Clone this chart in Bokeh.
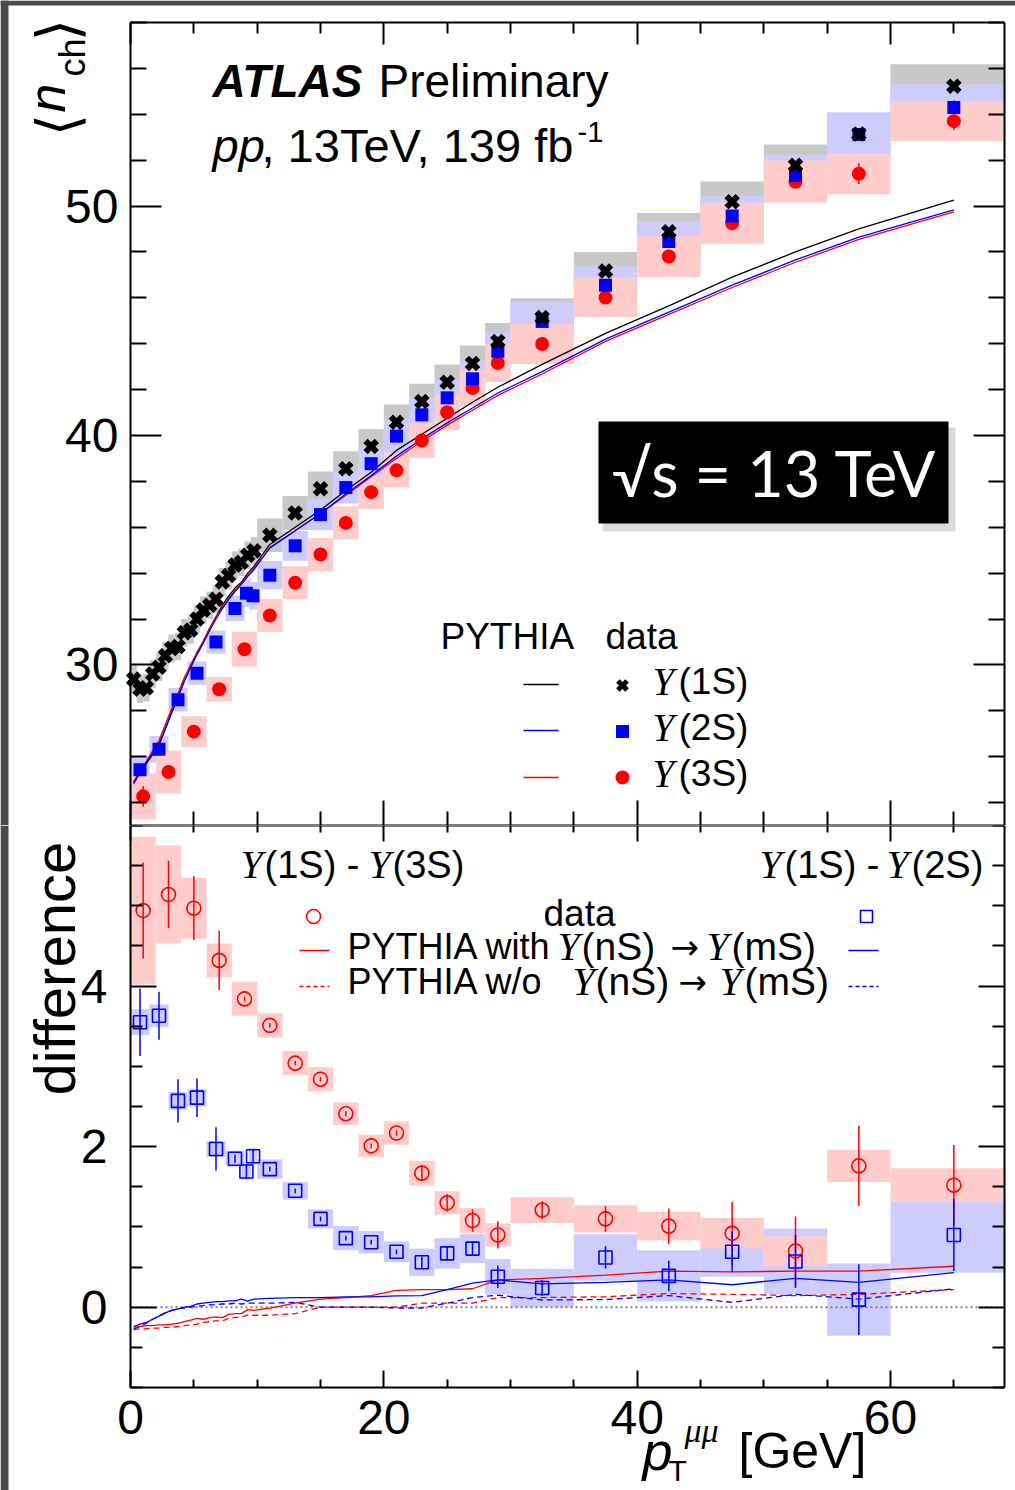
import math
from bokeh.plotting import figure
from bokeh.models import (Range1d, FixedTicker, LinearAxis, Label, BoxAnnotation,
                          ColumnDataSource)
from bokeh.layouts import column
from bokeh.embed import file_html
from bokeh.resources import INLINE

# ---------------- data ----------------
# Upsilon(1S)  (black crosses)
s1_lo = [0, 0.5, 1, 1.5, 2, 2.5, 3, 3.5, 4, 4.5, 5, 5.5, 6, 6.5, 7, 7.5, 8, 8.5, 9, 9.5,
         10, 12, 14, 16, 18, 20, 22, 24, 26, 28, 30, 35, 40, 45, 50, 55, 60]
s1_hi = [0.5, 1, 1.5, 2, 2.5, 3, 3.5, 4, 4.5, 5, 5.5, 6, 6.5, 7, 7.5, 8, 8.5, 9, 9.5, 10,
         12, 14, 16, 18, 20, 22, 24, 26, 28, 30, 35, 40, 45, 50, 55, 60, 70]
s1_val = [29.38, 28.94, 29.0, 29.6, 29.9, 30.4, 30.72, 30.8, 31.4, 31.52, 32.0, 32.39, 32.6, 32.86,
          33.62, 33.9, 34.35, 34.47, 34.78, 34.97,
          35.65, 36.62, 37.68, 38.55, 39.52, 40.58, 41.48, 42.32, 43.14, 44.1,
          45.14, 47.17, 48.88, 50.19, 51.78, 53.14, 55.22]
s1_sys = [0.6] * 20 + [0.73, 0.74, 0.75, 0.76, 0.76, 0.77, 0.77, 0.77, 0.78, 0.8,
                       0.84, 0.83, 0.82, 0.88, 0.9, 0.9, 0.96]
s1_stat = [0.1] * 20 + [0.05] * 10 + [0.08, 0.1, 0.1, 0.12, 0.15, 0.2, 0.25]

# Upsilon(2S)  (blue squares)
s2_lo = [0, 1.5, 3, 4.5, 6, 7.5, 8.8, 9.35, 10, 12, 14, 16, 18, 20, 22, 24, 26, 28,
         30, 35, 40, 45, 50, 55, 60]
s2_hi = [1.5, 3, 4.5, 6, 7.5, 9, 9.5, 10, 12, 14, 16, 18, 20, 22, 24, 26, 28, 30,
         35, 40, 45, 50, 55, 60, 70]
s2_val = [25.43, 26.32, 28.48, 29.64, 31.0, 32.46, 33.12, 33.01, 33.91, 35.19, 36.55, 37.73,
          38.77, 39.97, 40.9, 41.64, 42.47, 43.67, 44.97, 46.55, 48.45, 49.57, 51.33, 53.12, 54.3]
s2_sys = [0.6, 0.58, 0.51, 0.51, 0.5, 0.55, 0.6, 0.6, 0.62, 0.65, 0.68, 0.7, 0.72, 0.74, 0.76,
          0.78, 0.8, 0.82, 0.84, 0.83, 0.89, 0.86, 0.9, 0.97, 1.0]
s2_stat = [0.2, 0.15, 0.1, 0.1, 0.08, 0.06, 0.06, 0.06] + [0.05] * 10 + [0.08, 0.1, 0.12, 0.15, 0.2, 0.25, 0.3]

# Upsilon(3S)  (red circles)
s3_lo = [0, 2, 4, 6, 8, 10, 12, 14, 16, 18, 20, 22, 24, 26, 28, 30, 35, 40, 45, 50, 55, 60]
s3_hi = [2, 4, 6, 8, 10, 12, 14, 16, 18, 20, 22, 24, 26, 28, 30, 35, 40, 45, 50, 55, 60, 70]
s3_val = [24.27, 25.33, 27.09, 28.94, 30.68, 32.15, 33.58, 34.81, 36.19, 37.53, 38.48, 39.78,
          41.01, 42.07, 43.16, 43.99, 46.01, 47.80, 49.25, 51.06, 51.41, 53.70]
s3_sys = [1.0, 0.94, 0.67, 0.53, 0.76, 0.72, 0.72, 0.72, 0.72, 0.74, 0.74, 0.76, 0.78, 0.8,
          0.83, 0.87, 0.85, 0.89, 0.89, 0.92, 0.9, 0.88]
s3_stat = [0.45, 0.3, 0.25, 0.25, 0.2, 0.1, 0.1, 0.1, 0.1, 0.1, 0.1, 0.1, 0.1, 0.1, 0.1,
           0.12, 0.15, 0.15, 0.18, 0.22, 0.45, 0.38]

# PYTHIA <n_ch> curves
py_x = [0.25, 0.75, 1.25, 1.75, 2.25, 2.75, 3.25, 3.75, 4.25, 4.75, 5.25, 5.75, 6.25, 6.75,
        7.25, 7.75, 8.25, 8.75, 9.25, 9.75, 11, 13, 15, 17, 19, 21, 23, 25, 27, 29,
        32.5, 37.5, 42.5, 47.5, 52.5, 57.5, 65]
py_1s = [24.85, 25.3, 25.7, 26.1, 26.5, 27.2, 27.9, 28.6, 29.3, 29.9, 30.5, 31.0, 31.6, 32.1,
         32.6, 33.0, 33.35, 33.6, 34.0, 34.3, 35.25, 36.0, 36.75, 37.6, 38.4, 39.35, 40.05,
         40.75, 41.45, 42.1, 43.1, 44.45, 45.65, 46.9, 48.0, 49.0, 50.26]
py_2s = [24.9, 25.35, 25.75, 26.15, 26.55, 27.25, 27.95, 28.6, 29.3, 29.9, 30.45, 30.95, 31.5,
         32.0, 32.45, 32.85, 33.2, 33.5, 33.85, 34.15, 35.1, 35.85, 36.6, 37.45, 38.25, 39.1,
         39.85, 40.55, 41.2, 41.85, 42.78, 44.2, 45.38, 46.55, 47.65, 48.65, 49.83]
py_3s = [24.8, 25.3, 25.8, 26.25, 26.7, 27.4, 28.1, 28.75, 29.45, 30.0, 30.55, 31.05, 31.6,
         32.1, 32.5, 32.9, 33.25, 33.55, 33.9, 34.2, 35.1, 35.85, 36.6, 37.4, 38.2, 39.0,
         39.75, 40.45, 41.1, 41.75, 42.68, 44.1, 45.28, 46.45, 47.55, 48.55, 49.75]

# differences: 1S-3S (red) and 1S-2S (blue)
d13_val = [4.94, 5.14, 4.97, 4.32, 3.84, 3.51, 3.04, 2.84, 2.41, 2.01, 2.17, 1.67, 1.30, 1.08,
           0.90, 1.21, 1.10, 1.01, 0.92, 0.70, 1.76, 1.52]
d13_sys = [0.92, 0.61, 0.38, 0.21, 0.21, 0.15, 0.15, 0.15, 0.14, 0.14, 0.145, 0.155, 0.145,
           0.155, 0.145, 0.16, 0.17, 0.18, 0.19, 0.19, 0.2, 0.21]
d13_stat = [0.6, 0.42, 0.4, 0.37, 0.03, 0.03, 0.03, 0.03, 0.03, 0.03, 0.03, 0.1, 0.11, 0.14,
            0.17, 0.11, 0.16, 0.22, 0.39, 0.43, 0.5, 0.5]
d12_val = [3.55, 3.63, 2.57, 2.61, 1.97, 1.85, 1.69, 1.88, 1.72, 1.45, 1.10, 0.86, 0.81, 0.69,
           0.56, 0.67, 0.73, 0.38, 0.24, 0.62, 0.39, 0.69, 0.57, 0.095, 0.90]
d12_sys = [0.16, 0.14, 0.11, 0.11, 0.1, 0.1, 0.1, 0.1, 0.12, 0.11, 0.12, 0.15, 0.14, 0.13,
           0.17, 0.19, 0.18, 0.22, 0.24, 0.29, 0.32, 0.31, 0.41, 0.45, 0.47]
d12_stat = [0.42, 0.30, 0.27, 0.24, 0.27, 0.05, 0.09, 0.09, 0.03, 0.03, 0.03, 0.03, 0.03, 0.03,
            0.07, 0.09, 0.09, 0.14, 0.10, 0.14, 0.19, 0.25, 0.33, 0.44, 0.45]

# PYTHIA differences
pyd_13_with = [-0.25, -0.24, -0.23, -0.23, -0.22, -0.22, -0.21, -0.20, -0.18, -0.16, -0.14, -0.15,
               -0.13, -0.12, -0.13, -0.09, -0.08, -0.08, -0.03, -0.04, -0.01, 0.05, 0.10, 0.12,
               0.145, 0.21, 0.22, 0.22, 0.23, 0.34, 0.36, 0.40, 0.45, 0.44, 0.45, 0.45, 0.51]
pyd_12_with = [-0.24, -0.21, -0.19, -0.15, -0.11, -0.07, -0.04, -0.02, 0.0, 0.01, 0.04, 0.05,
               0.06, 0.07, 0.07, 0.08, 0.08, 0.10, 0.075, 0.10, 0.11, 0.12, 0.12, 0.13, 0.13,
               0.14, 0.145, 0.22, 0.30, 0.34, 0.29, 0.31, 0.34, 0.28, 0.36, 0.31, 0.43]
pyd_13_wo = [-0.28, -0.27, -0.27, -0.26, -0.26, -0.25, -0.25, -0.24, -0.23, -0.22, -0.21, -0.19,
             -0.18, -0.17, -0.17, -0.14, -0.13, -0.12, -0.10, -0.10, -0.10, -0.08, 0.0, 0.0, 0.0,
             0.0, 0.05, 0.05, 0.05, 0.12, 0.12, 0.13, 0.17, 0.16, 0.145, 0.16, 0.22]
pyd_12_wo = [-0.27, -0.24, -0.20, -0.15, -0.11, -0.07, -0.04, -0.02, -0.01, 0.0, 0.01, 0.02, 0.03,
             0.03, 0.04, 0.04, 0.05, 0.04, 0.05, 0.05, 0.05, 0.06, 0.0, 0.0, 0.0, -0.01, -0.01,
             0.05, 0.12, 0.15, 0.09, 0.095, 0.145, 0.06, 0.16, 0.10, 0.23]

x_ticks = [0, 20, 40, 60]
x_minor = [5, 10, 15, 25, 30, 35, 45, 50, 55, 65]
top_ticks = [30, 40, 50]
top_minor = [24, 26, 28, 32, 34, 36, 38, 42, 44, 46, 48, 52, 54, 56, 58]
bot_ticks = [0, 2, 4]
bot_minor = [-1, -0.5, 0.5, 1, 1.5, 2.5, 3, 3.5, 4.5, 5, 5.5, 6]

X_MIN, X_MAX = 0, 69
Y1_MIN, Y1_MAX = 23, 58
Y2_MIN, Y2_MAX = -1, 6

# ---------------- layout geometry (pixels) ----------------
W = 1015
H1, H2 = 825, 665
BOX_L, BOX_R = 130, 1004
BOX1_T = 22            # top of upper box (upper canvas coords)
BOX2_B = 562           # bottom of lower box (lower canvas coords)

ppx = (BOX_R - BOX_L) / (X_MAX - X_MIN)
XL = X_MIN - BOX_L / ppx
XR = X_MAX + (W - BOX_R) / ppx
ppy1 = (H1 - BOX1_T) / (Y1_MAX - Y1_MIN)
Y1T = Y1_MAX + BOX1_T / ppy1
ppy2 = BOX2_B / (Y2_MAX - Y2_MIN)
Y2B = Y2_MIN - (H2 - BOX2_B) / ppy2


def fx(px):
    return XL + px / ppx


def f1(py):
    return Y1T - py / ppy1


def f2(py):           # py in page coordinates
    return Y2_MAX - (py - H1) / ppy2


FONT = "Liberation Sans"
SERIF = "Liberation Serif"
RED = "#ff0000"
BLUE = "#0000ff"


def src(lo, hi, val, sys, stat):
    lo_c = [max(a, X_MIN) for a in lo]
    hi_c = [min(b, X_MAX) for b in hi]
    xc = [(a + b) / 2 for a, b in zip(lo, hi)]
    return ColumnDataSource(dict(
        lo=lo_c, hi=hi_c, x=xc, y=val,
        b=[v - s for v, s in zip(val, sys)], t=[v + s for v, s in zip(val, sys)],
        e0=[v - s for v, s in zip(val, stat)], e1=[v + s for v, s in zip(val, stat)]))


def make_axis(loc, bounds, ticks, minor, major_len, minor_len, show, standoff=12):
    ax = LinearAxis(ticker=FixedTicker(ticks=ticks, minor_ticks=minor),
                    fixed_location=loc, bounds=bounds)
    ax.major_tick_in = major_len
    ax.major_tick_out = 0
    ax.minor_tick_in = minor_len
    ax.minor_tick_out = 0
    ax.axis_line_width = 2
    ax.axis_line_color = "black"
    ax.major_tick_line_width = 2
    ax.minor_tick_line_width = 2
    ax.major_tick_line_color = "black"
    ax.minor_tick_line_color = "black"
    if show:
        ax.major_label_text_font = FONT
        ax.major_label_text_font_size = "48px"
        ax.major_label_text_color = "black"
        ax.major_label_standoff = standoff
    else:
        ax.major_label_text_color = None
    return ax


def lab(p, x, y, text, size, style="normal", font=FONT, color="black", angle=0.0,
        align="left", baseline="middle"):
    p.add_layout(Label(x=x, y=y, text=text, text_font=font, text_font_size=f"{size}px",
                       text_font_style=style, text_color=color, angle=angle,
                       text_align=align, text_baseline=baseline))


def base_fig(h, yr):
    p = figure(width=W, height=h, x_range=Range1d(XL, XR), y_range=Range1d(*yr),
               output_backend="svg", toolbar_location=None, title_location=None,
               x_axis_location=None, y_axis_location=None,
               min_border_left=0, min_border_right=0, min_border_top=0, min_border_bottom=0)
    p.grid.visible = False
    p.outline_line_color = None
    p.background_fill_color = "white"
    p.border_fill_color = "white"
    return p


# ---------------- top panel ----------------
p1 = base_fig(H1, (Y1_MIN, Y1T))
p1.add_layout(make_axis(X_MIN, (Y1_MIN, Y1_MAX), top_ticks, top_minor, 31, 16, True, 12), "left")
p1.add_layout(make_axis(X_MAX, (Y1_MIN, Y1_MAX), top_ticks, top_minor, 31, 16, False), "right")
p1.add_layout(make_axis(Y1_MIN, (X_MIN, X_MAX), x_ticks, x_minor, 25, 14, False), "below")
p1.add_layout(make_axis(Y1_MAX, (X_MIN, X_MAX), x_ticks, x_minor, 22, 11, False), "above")

src1 = src(s1_lo, s1_hi, s1_val, s1_sys, s1_stat)
src2 = src(s2_lo, s2_hi, s2_val, s2_sys, s2_stat)
src3 = src(s3_lo, s3_hi, s3_val, s3_sys, s3_stat)

p1.quad(left="lo", right="hi", bottom="b", top="t", source=src1, fill_color="#c8c8c8", line_color=None)
p1.quad(left="lo", right="hi", bottom="b", top="t", source=src2, fill_color="#ccccff", line_color=None)
p1.quad(left="lo", right="hi", bottom="b", top="t", source=src3, fill_color="#ffcccc", line_color=None)

p1.line(py_x, py_1s, line_color="black", line_width=1.3)
p1.line(py_x, py_3s, line_color=RED, line_width=1.3)
p1.line(py_x, py_2s, line_color=BLUE, line_width=1.3)

p1.segment(x0="x", y0="e0", x1="x", y1="e1", source=src3, line_color=RED, line_width=1.5)
p1.segment(x0="x", y0="e0", x1="x", y1="e1", source=src2, line_color=BLUE, line_width=1.5)
p1.scatter(x="x", y="y", source=src3, marker="circle", size=14, fill_color=RED, line_color=None)
p1.scatter(x="x", y="y", source=src2, marker="square", size=13, fill_color=BLUE, line_color=None)
p1.scatter(x="x", y="y", source=src1, marker="x", size=16, line_color="black", line_width=6)

# header
lab(p1, fx(212), f1(80), "ATLAS", 46, "bold italic")
lab(p1, fx(378), f1(80), "Preliminary", 46)
lab(p1, fx(212), f1(145), "pp", 47, "italic")
lab(p1, fx(261), f1(145), ", 13TeV, 139 fb", 47)
lab(p1, fx(577), f1(131), "-1", 29)

# y title  < n_ch >   (rotated)
lab(p1, fx(57), f1(136), "\u27e8", 58, font="DejaVu Sans", angle=math.pi / 2)
lab(p1, fx(46), f1(112), "n", 52, "italic", angle=math.pi / 2)
lab(p1, fx(72), f1(76), "ch", 36, angle=math.pi / 2)
lab(p1, fx(57), f1(41), "\u27e9", 58, font="DejaVu Sans", angle=math.pi / 2)

# sqrt(s) box with shadow
p1.add_layout(BoxAnnotation(left=fx(602), right=fx(955), top=f1(427), bottom=f1(531),
                            fill_color="#999999", fill_alpha=0.35, line_color=None))
p1.add_layout(BoxAnnotation(left=fx(598), right=fx(948), top=f1(421), bottom=f1(523),
                            fill_color="black", fill_alpha=1.0, line_color=None))
lab(p1, fx(774), f1(472), "\u221as = 13 TeV", 63, font="Lato", color="white", align="center")

# legend (top)
lab(p1, fx(440), f1(636), "PYTHIA", 37)
lab(p1, fx(605), f1(636), "data", 37)
for py_line, c in zip([684, 730, 777], ["black", BLUE, RED]):
    p1.line([fx(523), fx(558)], [f1(py_line), f1(py_line)], line_color=c, line_width=1.3)
p1.scatter([fx(622)], [f1(685)], marker="x", size=13, line_color="black", line_width=5)
p1.scatter([fx(622)], [f1(731)], marker="square", size=13, fill_color=BLUE, line_color=None)
p1.scatter([fx(622)], [f1(777)], marker="circle", size=14, fill_color=RED, line_color=None)
for py_t, s in zip([681, 727, 773], ["(1S)", "(2S)", "(3S)"]):
    lab(p1, fx(652), f1(py_t), "\u03a5", 39, "italic", font=SERIF)
    lab(p1, fx(678), f1(py_t), s, 37)

# dark screenshot edge
p1.add_layout(BoxAnnotation(right=fx(8), fill_color="#4a4a4a", fill_alpha=1.0, line_color=None))
p1.add_layout(BoxAnnotation(bottom=f1(5), fill_color="#4a4a4a", fill_alpha=1.0, line_color=None))

# ---------------- bottom panel ----------------
p2 = base_fig(H2, (Y2B, Y2_MAX))
p2.add_layout(make_axis(X_MIN, (Y2_MIN, Y2_MAX), bot_ticks, bot_minor, 26, 12, True, 23), "left")
p2.add_layout(make_axis(X_MAX, (Y2_MIN, Y2_MAX), bot_ticks, bot_minor, 26, 12, False), "right")
p2.add_layout(make_axis(Y2_MIN, (X_MIN, X_MAX), x_ticks, x_minor, 17, 8, True, 13), "below")
p2.add_layout(make_axis(Y2_MAX, (X_MIN, X_MAX), x_ticks, x_minor, 16, 7, False), "above")

srcd13 = src(s3_lo, s3_hi, d13_val, d13_sys, d13_stat)
srcd12 = src(s2_lo, s2_hi, d12_val, d12_sys, d12_stat)

p2.quad(left="lo", right="hi", bottom="b", top="t", source=srcd12, fill_color="#ccccff", line_color=None)
p2.quad(left="lo", right="hi", bottom="b", top="t", source=srcd13, fill_color="#ffcccc", line_color=None)

p2.segment(x0=[X_MIN], y0=[0], x1=[X_MAX], y1=[0], line_color="#808080", line_width=2,
           line_dash="2 3")

p2.line(py_x, pyd_13_wo, line_color=RED, line_width=1.3, line_dash="6 4")
p2.line(py_x, pyd_12_wo, line_color=BLUE, line_width=1.3, line_dash="6 4")
p2.line(py_x, pyd_13_with, line_color=RED, line_width=1.3)
p2.line(py_x, pyd_12_with, line_color=BLUE, line_width=1.3)

p2.segment(x0="x", y0="e0", x1="x", y1="e1", source=srcd13, line_color=RED, line_width=1.5)
p2.segment(x0="x", y0="e0", x1="x", y1="e1", source=srcd12, line_color=BLUE, line_width=1.5)
p2.scatter(x="x", y="y", source=srcd13, marker="circle", size=14, fill_color=None,
           line_color=RED, line_width=1.6)
p2.scatter(x="x", y="y", source=srcd12, marker="square", size=13, fill_color=None,
           line_color=BLUE, line_width=1.6)

# titles of the two difference series
for xs, lbl1, lbl2 in [((240, 264, 368, 392), "(1S) -", "(3S)"),
                       ((759, 784, 886, 911), "(1S) -", "(2S)")]:
    lab(p2, fx(xs[0]), f2(864), "\u03a5", 40, "italic", font=SERIF)
    lab(p2, fx(xs[1]), f2(864), lbl1, 38)
    lab(p2, fx(xs[2]), f2(864), "\u03a5", 40, "italic", font=SERIF)
    lab(p2, fx(xs[3]), f2(864), lbl2, 38)

# legend (bottom)
lab(p2, fx(543), f2(913), "data", 37)
p2.scatter([fx(313)], [f2(916)], marker="circle", size=14, fill_color=None, line_color=RED, line_width=1.6)
p2.scatter([fx(866)], [f2(916)], marker="square", size=12, fill_color=None, line_color=BLUE, line_width=1.6)

for py_row, first, xs in [(946, "PYTHIA with", (557, 581, 670, 706, 731)),
                          (981, "PYTHIA w/o", (572, 595, 678, 719, 744))]:
    lab(p2, fx(347), f2(py_row), first, 36)
    lab(p2, fx(xs[0]), f2(py_row), "\u03a5", 40, "italic", font=SERIF)
    lab(p2, fx(xs[1]), f2(py_row), "(nS)", 39)
    lab(p2, fx(xs[2]), f2(py_row), "\u2192", 34, font="DejaVu Sans")
    lab(p2, fx(xs[3]), f2(py_row), "\u03a5", 40, "italic", font=SERIF)
    lab(p2, fx(xs[4]), f2(py_row), "(mS)", 39)

p2.line([fx(299), fx(329)], [f2(950), f2(950)], line_color=RED, line_width=1.3)
p2.line([fx(848), fx(878)], [f2(950), f2(950)], line_color=BLUE, line_width=1.3)
p2.line([fx(299), fx(329)], [f2(986), f2(986)], line_color=RED, line_width=1.3, line_dash="4 3")
p2.line([fx(848), fx(878)], [f2(986), f2(986)], line_color=BLUE, line_width=1.3, line_dash="4 3")

# axis titles
lab(p2, fx(54), f2(1095), "difference", 58, angle=math.pi / 2)
lab(p2, fx(642), f2(1450), "p", 54, "italic")
lab(p2, fx(668), f2(1470), "T", 30)
lab(p2, fx(684), f2(1430), "\u03bc\u03bc", 34, "italic", font=SERIF)
lab(p2, fx(738), f2(1450), "[GeV]", 50)

p2.add_layout(BoxAnnotation(right=fx(8), fill_color="#4a4a4a", fill_alpha=1.0, line_color=None))

layout = column(p1, p2, spacing=0)
open("out.html", "w").write(file_html(layout, INLINE))
